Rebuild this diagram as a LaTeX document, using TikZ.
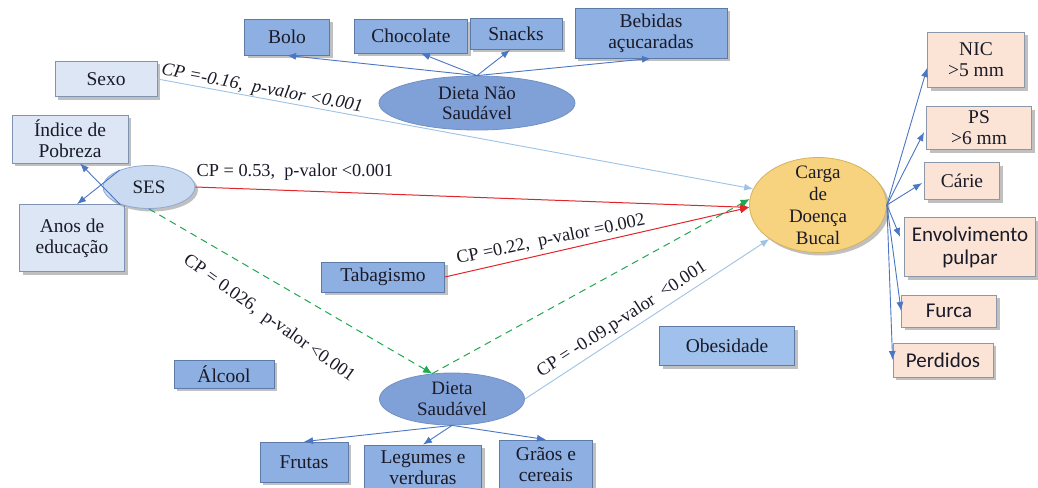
\documentclass[tikz,border=0pt]{standalone}
\usepackage{fontspec}
\setmainfont{Liberation Serif}
\newfontfamily\calib{Carlito}
\usetikzlibrary{shapes.geometric,shadows,arrows.meta,calc}

\definecolor{medblue}{HTML}{8DAFE1}
\definecolor{obesblue}{HTML}{9FC1EB}
\definecolor{boxline}{HTML}{5E7BA8}
\definecolor{lightfill}{HTML}{DCE6F4}
\definecolor{lightline}{HTML}{7F94B3}
\definecolor{sesfill}{HTML}{CADAF0}
\definecolor{sesline}{HTML}{8FAAD6}
\definecolor{dietfill}{HTML}{7FA1D8}
\definecolor{cargafill}{HTML}{F8D37F}
\definecolor{cargaline}{HTML}{D6B25C}
\definecolor{peach}{HTML}{FBE4D5}
\definecolor{peachline}{HTML}{8B98AA}
\definecolor{txt}{HTML}{1A1A28}
\definecolor{arrowblue}{HTML}{4A76C4}
\definecolor{paleblue}{HTML}{9DC3E6}
\definecolor{pathred}{HTML}{E0252B}
\definecolor{pathgreen}{HTML}{1FA84F}

\tikzset{
  shadowed/.style={drop shadow={shadow xshift=3pt, shadow yshift=-3pt, opacity=.35, fill=black!70}},
  box/.style={draw=boxline, fill=medblue, line width=0.8pt, inner sep=0pt, align=center,
    text=txt, font=\fontsize{19.5}{21}\selectfont, shadowed},
  lbox/.style={box, fill=lightfill, draw=lightline},
  pbox/.style={box, fill=peach, draw=peachline},
  sbox/.style={pbox, font=\calib\fontsize{21}{23}\selectfont},
  ell/.style={ellipse, inner sep=0pt, line width=0.8pt},
  elltext/.style={align=center, text=txt, font=\fontsize{19}{20.5}\selectfont},
  blue/.style={draw=arrowblue, line width=0.9pt, -{Latex[length=9pt,width=7pt]}},
  pale/.style={draw=paleblue, line width=0.9pt, -{Latex[length=9pt,width=7pt]}},
  redp/.style={draw=pathred, line width=1pt, -{Latex[length=9pt,width=8pt]}},
  greenp/.style={draw=pathgreen, line width=1pt, dash pattern=on 7pt off 5pt, -{Latex[length=9pt,width=8pt]}},
  coef/.style={text=txt, font=\fontsize{18.3}{20}\selectfont, inner sep=1pt}
}

\begin{document}
\begin{tikzpicture}[x=1pt, y=-1pt]
\useasboundingbox[fill=white] (0,0) rectangle (1038,487);

% unhealthy diet items
\node[box, minimum width=85pt, minimum height=36pt] (bolo) at (287,37) {Bolo};
\node[box, minimum width=113pt, minimum height=34pt] (choc) at (411,36) {Chocolate};
\node[box, minimum width=92pt, minimum height=31pt] (snacks) at (516,34) {Snacks};
\node[box, minimum width=152pt, minimum height=50pt] (beb) at (651,33) {Bebidas\\açucaradas};

% left-hand variables
\node[lbox, minimum width=102pt, minimum height=35pt] (sexo) at (106,79) {Sexo};
\node[lbox, minimum width=116pt, minimum height=48pt] (indice) at (70,139) {Índice de\\Pobreza};
\node[lbox, minimum width=105pt, minimum height=67pt] (anos) at (72,238) {Anos de\\educação};

% other exposures
\node[box, minimum width=123pt, minimum height=30pt] (tabag) at (383,277) {Tabagismo};
\node[box, minimum width=100pt, minimum height=28pt] (alcool) at (224,374) {Álcool};
\node[box, fill=obesblue, minimum width=135pt, minimum height=39pt] (obes) at (727,346) {Obesidade};

% healthy diet items
\node[box, minimum width=88pt, minimum height=40pt] (frutas) at (304,462) {Frutas};
\node[box, minimum width=117pt, minimum height=46pt] (legumes) at (423,468) {Legumes e\\verduras};
\node[box, minimum width=93pt, minimum height=50pt] (graos) at (546,465) {Grãos e\\cereais};

% outcome components
\node[pbox, minimum width=97pt, minimum height=55pt] (nic) at (976,60) {NIC\\>5 mm};
\node[pbox, minimum width=105pt, minimum height=43pt] (ps) at (979,128) {PS\\>6 mm};
\node[pbox, minimum width=75pt, minimum height=37pt] (carie) at (962,181) {Cárie};
\node[sbox, minimum width=131pt, minimum height=59pt] (envol) at (970,247) {Envolvimento\\pulpar};
\node[sbox, minimum width=95pt, minimum height=32pt] (furca) at (949,311) {Furca};
\node[sbox, minimum width=100pt, minimum height=34pt] (perdidos) at (943,360) {Perdidos};

% latent constructs
\node[ell, fill=dietfill, draw=dietfill!90!black, minimum width=196pt, minimum height=54pt,
  label={[elltext]center:Dieta Não\\Saudável}] (dns) at (477,103) {};
\node[ell, fill=sesfill, draw=sesline, minimum width=92pt, minimum height=43pt, shadowed,
  label={[elltext]center:SES}] (ses) at (149,187) {};
\node[ell, fill=dietfill, draw=dietfill!90!black, minimum width=145pt, minimum height=52pt,
  label={[elltext]center:Dieta\\Saudável}] (ds) at (452,399) {};
\node[ell, fill=cargafill, draw=cargaline, minimum width=137pt, minimum height=95pt, shadowed,
  label={[elltext, font=\fontsize{19}{22}\selectfont]center:Carga\\de\\Doença\\Bucal}] (carga) at (818,205) {};

% indicators of the unhealthy diet
\draw[blue] (dns.north) -- (bolo.south);
\draw[blue] (dns.north) -- ($(choc.south)+(10,0)$);
\draw[blue] (dns.north) -- ($(snacks.south)+(-6,0)$);
\draw[blue] (dns.north) -- (beb.south);

% indicators of SES
\draw[blue] (ses.210) -- ($(indice.south)+(10,0)$);
\draw[blue] (ses.150) -- ($(anos.north)+(5,0)$);

% indicators of the healthy diet
\draw[blue] (ds.south) -- (frutas.north);
\draw[blue] (ds.south) -- (legumes.north);
\draw[blue] (ds.south) -- (graos.north);

% components of the oral disease burden
\draw[blue] (carga.east) -- ($(nic.west)+(0,8)$);
\draw[blue] (carga.east) -- ($(ps.west)+(-2,4)$);
\draw[blue] (carga.east) -- ($(carie.west)+(-2,2)$);
\draw[blue] (carga.east) -- ($(envol.west)+(-4,-10)$);
\draw[blue] (carga.east) -- (furca.west);
\draw[blue] (carga.east) -- (perdidos.west);

% structural paths
\coordinate (dstop) at (ds.128);
\draw[pale] (sexo.east) -- (carga.166);
\draw[redp] (ses.east) -- (carga.182);
\draw[redp] (tabag.east) -- (carga.182);
\draw[greenp] (ses.south) -- (dstop);
\draw[greenp] (dstop) -- (carga.175);
\draw[pale] (ds.east) -- (carga.215);

% path coefficients
\node[coef, rotate=-10.5] (c1) at (262,89) {\itshape CP =-0.16,\ \ p-valor <0.001};
\node[coef] (c2) at (295,172) {CP = 0.53,\ \ p-valor <0.001};
\node[coef, rotate=11.8] (c3) at (551,240) {CP =0.22,\ \ p-valor =0.002};
\node[coef, rotate=-35.5] (c4) at (269,319) {CP = 0.026,\ \ p-valor <0.001};
\node[coef, rotate=33] (c5) at (622,320) {CP = -0.09.p-valor\ \ <0.001};
\end{tikzpicture}
\end{document}
